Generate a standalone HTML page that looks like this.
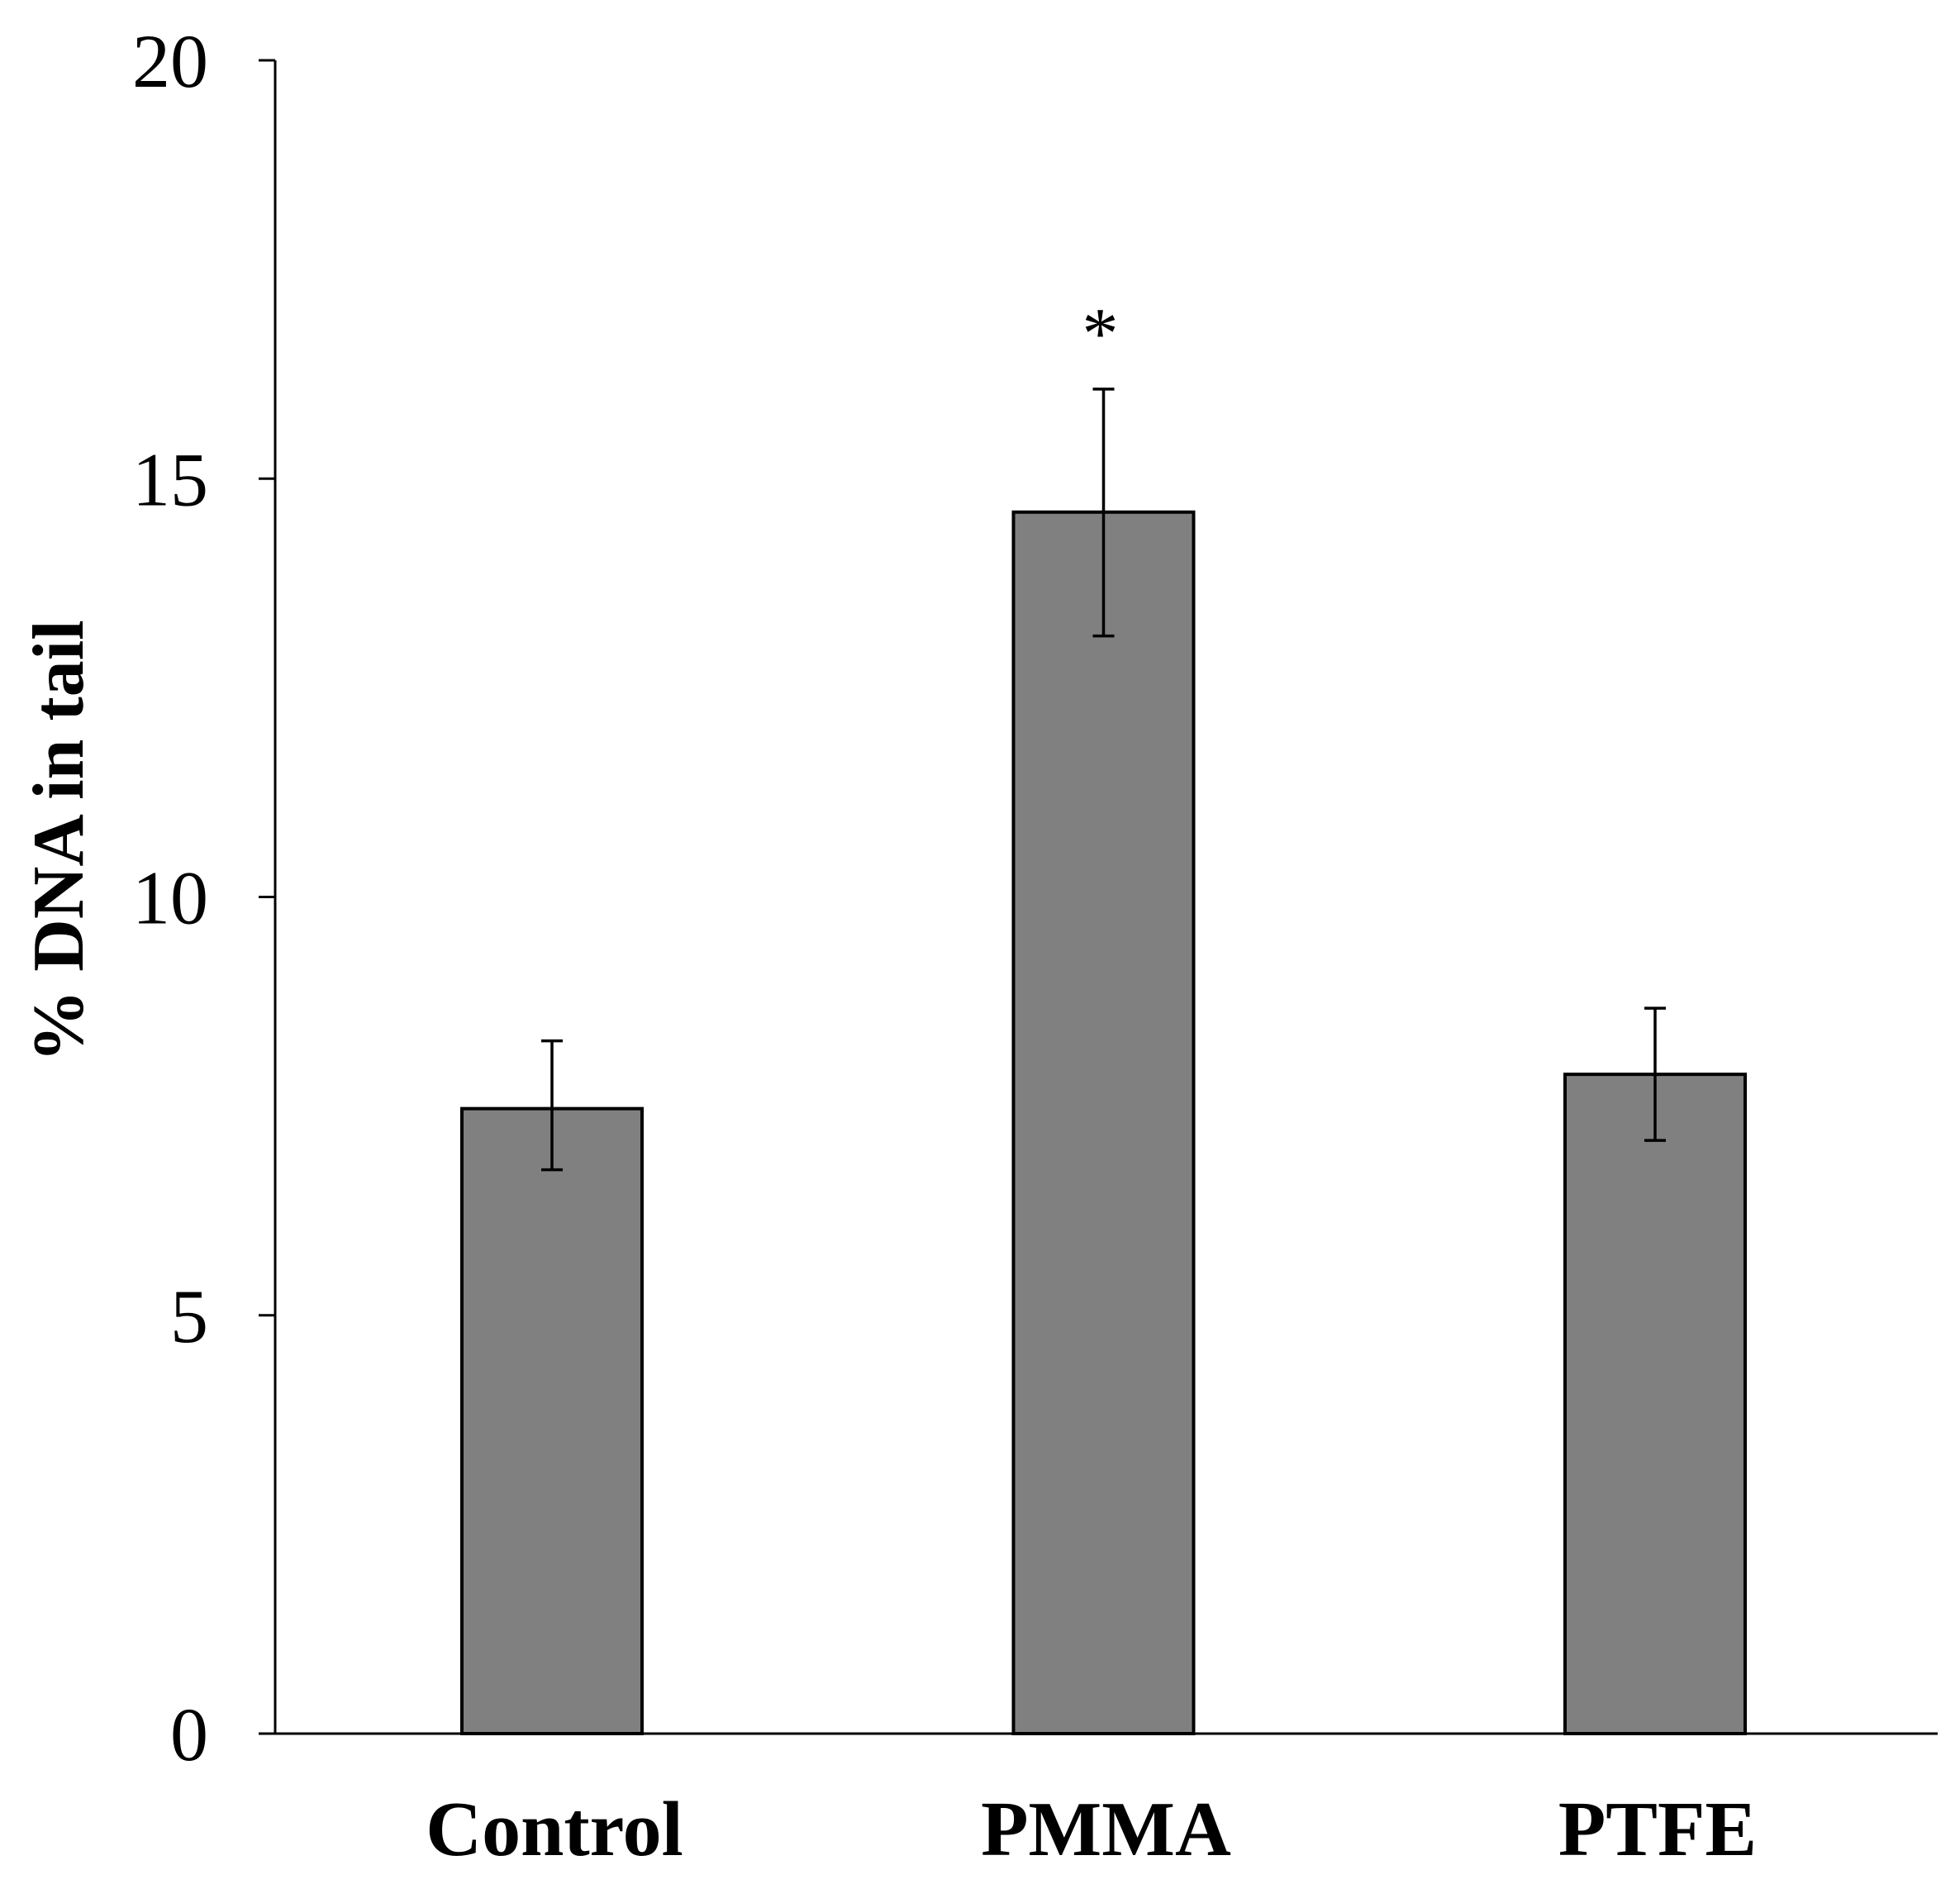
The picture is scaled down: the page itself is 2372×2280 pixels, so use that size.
<!DOCTYPE html>
<html><head><meta charset="utf-8"><style>
html,body{margin:0;padding:0;background:#fff;}
svg{display:block;font-family:"Liberation Serif",serif;}
</style></head><body>
<svg id="chart" width="2372" height="2280" viewBox="0 0 2372 2280" xmlns="http://www.w3.org/2000/svg"></svg>
<script>
const categories = ["Control", "PMMA", "PTFE"];
const values = [7.47, 14.6, 7.88];
const errUpper = [8.28, 16.07, 8.67];
const errLower = [6.74, 13.12, 7.09];
const yTicks = [0, 5, 10, 15, 20];
const significance = ["", "*", ""];

const svg = document.getElementById('chart');
const NS = 'http://www.w3.org/2000/svg';
const axisX = 333, y0 = 2098, yTop = 73, xEnd = 2345;
const yMax = 20;
function yScale(v){ return y0 - (v / yMax) * (y0 - yTop); }
const centers0 = [668, 1337, 2003];
function xScale(i){ return centers0[0] + i * ((centers0[2] - centers0[0]) / (categories.length - 1)); }
const barW = 218;
function mk(tag, attrs, parent){
  const e = document.createElementNS(NS, tag);
  for (const k in attrs) e.setAttribute(k, attrs[k]);
  (parent || svg).appendChild(e);
  return e;
}
categories.forEach((c, i) => {
  const cx = xScale(i);
  const r = mk('rect', {x: cx - barW/2, y: yScale(values[i]), width: barW, height: y0 - yScale(values[i]), fill: '#808080', stroke: '#000', 'stroke-width': 4});
  
  
  const g = mk('g', {stroke: '#000', 'stroke-width': 3.5});
  
  
  mk('line', {x1: cx, x2: cx, y1: yScale(errUpper[i]), y2: yScale(errLower[i])}, g);
  mk('line', {x1: cx - 13, x2: cx + 13, y1: yScale(errUpper[i]), y2: yScale(errUpper[i])}, g);
  mk('line', {x1: cx - 13, x2: cx + 13, y1: yScale(errLower[i]), y2: yScale(errLower[i])}, g);
  if (significance[i]) {
    const t = mk('text', {x: cx - 4, y: yScale(errUpper[i]) - 38, 'font-size': 88, 'text-anchor': 'middle'});
    t.textContent = significance[i];
    
    
  }
  const lbl = mk('text', {x: cx + 3, y: 2245, 'font-size': 94, 'font-weight': 'bold', 'text-anchor': 'middle'});
  lbl.textContent = c;
  
  
});
const ax = mk('line', {x1: axisX, x2: axisX, y1: yTop, y2: y0, stroke: '#000', 'stroke-width': 3});


const xa = mk('line', {x1: axisX - 20, x2: xEnd, y1: y0, y2: y0, stroke: '#000', 'stroke-width': 3});


yTicks.forEach(v => {
  const tk = mk('line', {x1: axisX - 20, x2: axisX, y1: yScale(v), y2: yScale(v), stroke: '#000', 'stroke-width': 3});
  
  
  const t = mk('text', {x: 252, y: yScale(v) + 32, 'font-size': 92, 'text-anchor': 'end'});
  t.textContent = v;
  
  
});
const yt = mk('text', {x: 0, y: 0, 'font-size': 88, 'font-weight': 'bold', 'text-anchor': 'middle', transform: 'translate(100,1018) rotate(-90)'});
yt.textContent = '% DNA in tail';


</script>
</body></html>
